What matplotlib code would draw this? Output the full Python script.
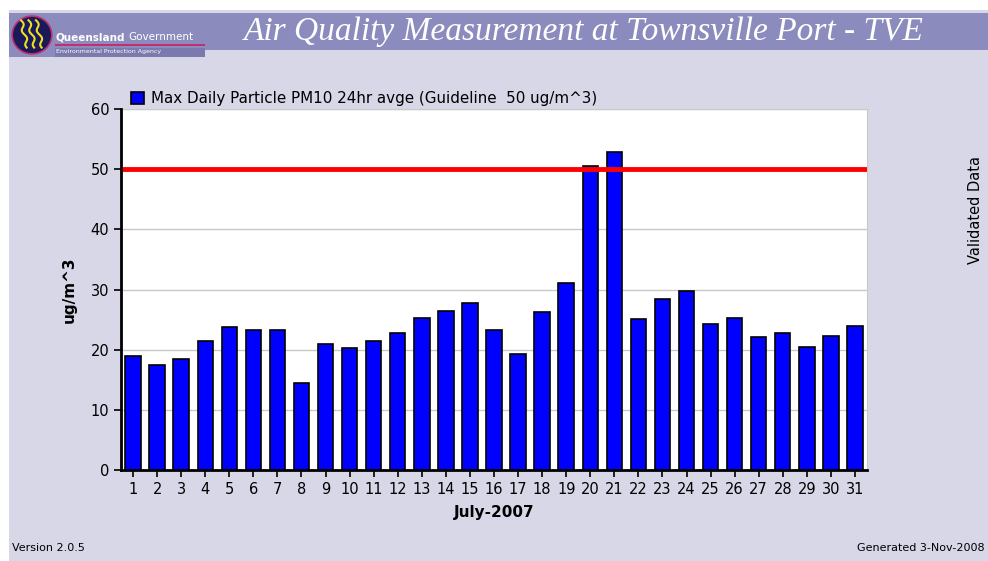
import matplotlib
matplotlib.use("Agg")
from matplotlib import pyplot as plt
from matplotlib.patches import Rectangle, Circle
import numpy as np

# daily max PM10 values
days = list(range(1, 32))
pm10 = [19.0, 17.4, 18.5, 21.5, 23.7, 23.2, 23.2, 14.4, 21.0, 20.2,
        21.5, 22.8, 25.3, 26.5, 27.8, 23.2, 19.3, 26.2, 31.1, 50.6,
        52.8, 25.1, 28.4, 29.8, 24.2, 25.3, 22.1, 22.8, 20.4, 22.3, 24.0]
guideline = 50
y_ticks = [0, 10, 20, 30, 40, 50, 60]

bg = '#d7d7e7'
banner = '#8b8bbd'

fig = plt.figure(figsize=(9.88, 5.61), dpi=100)
fig.patch.set_facecolor('white')

# page background below a white strip
fig.add_artist(Rectangle((9 / 988, 0), 1, 1 - 10 / 561, transform=fig.transFigure,
                         facecolor=bg, edgecolor='none', zorder=0))
# title banner
fig.add_artist(Rectangle((9 / 988, 1 - 50 / 561), 1, 37 / 561, transform=fig.transFigure,
                         facecolor=banner, edgecolor='none', zorder=1))
# logo
fig.add_artist(Rectangle((9 / 988, 1 - 57 / 561), 196 / 988, 44 / 561, transform=fig.transFigure,
                         facecolor=banner, edgecolor='none', zorder=1))
fig.add_artist(Rectangle((55 / 988, 1 - 57 / 561), 150 / 988, 9 / 561, transform=fig.transFigure,
                         facecolor='#7a7aae', edgecolor='none', zorder=2))
logo_ax = fig.add_axes([10 / 988, 1 - 56 / 561, 44 / 988, 42 / 561])
logo_ax.set_zorder(5)
logo_ax.patch.set_alpha(0)
logo_ax.set_xlim(0, 1)
logo_ax.set_ylim(0, 1)
logo_ax.axis('off')
logo_ax.add_patch(Circle((0.5, 0.5), 0.45, facecolor='#1a1a5a', edgecolor='#c03070', lw=1.2))
for dx in [0.25, 0.42, 0.59]:
    t = np.linspace(0, 1, 30)
    logo_ax.plot(dx + 0.15 * t + 0.04 * np.sin(t * 12), 0.85 - 0.65 * t, color='#f0e020', lw=1.5)
fig.text(55 / 988, 1 - 37 / 561, 'Queensland', color='white', fontsize=7.5, fontweight='bold',
         va='center', zorder=3)
fig.text(128 / 988, 1 - 37 / 561, 'Government', color='white', fontsize=7.5,
         va='center', zorder=3)
fig.add_artist(Rectangle((55 / 988, 1 - 46 / 561), 150 / 988, 1.5 / 561, transform=fig.transFigure,
                         facecolor='#c03070', edgecolor='none', zorder=3))
fig.text(56 / 988, 1 - 51.5 / 561, 'Environmental Protection Agency', color='white', fontsize=4.5,
         va='center', zorder=3)

fig.text(584 / 988, 1 - 32 / 561, 'Air Quality Measurement at Townsville Port - TVE',
         family='Liberation Serif', style='italic', fontsize=24, color='white',
         ha='center', va='center', zorder=3)

ax = fig.add_axes([121 / 988, 91 / 561, 746 / 988, 361 / 561])
ax.set_facecolor('white')
ax.bar(days, pm10, width=0.64, color='#0000ff', edgecolor='black', linewidth=1.2, zorder=3,
       label='Max Daily Particle PM10 24hr avge (Guideline  50 ug/m^3)')
ax.axhline(guideline, color='#ff0000', linewidth=3.5, zorder=4)
ax.set_xlim(0.5, 31.5)
ax.set_ylim(0, 60)
ax.set_yticks(y_ticks)
ax.set_xticks(days)
ax.grid(axis='y', color='#c8c8c8', linewidth=1, zorder=0)
for s in ['top', 'right']:
    ax.spines[s].set_color('#c8c8c8')
for s in ['left', 'bottom']:
    ax.spines[s].set_color('black')
    ax.spines[s].set_linewidth(2)
    ax.spines[s].set_zorder(5)
ax.tick_params(axis='both', labelsize=10.5, length=5, width=1.2, color='black')
ax.set_ylabel('ug/m^3', fontsize=11, fontweight='bold', labelpad=10)
ax.set_xlabel('July-2007', fontsize=11, fontweight='bold', labelpad=6)

ax.legend(loc='lower left', bbox_to_anchor=(0.01, 1.0), frameon=False, fontsize=10.9,
          handlelength=0.8, handleheight=0.8, handletextpad=0.5, borderaxespad=0.1,
          borderpad=0.1)

fig.text(975 / 988, 1 - 210 / 561, 'Validated Data', rotation=90, fontsize=10.5,
         ha='center', va='center')
fig.text(12 / 988, 1 - 548 / 561, 'Version 2.0.5', fontsize=8, va='center')
fig.text(985 / 988, 1 - 548 / 561, 'Generated 3-Nov-2008', fontsize=8, va='center', ha='right')

plt.savefig('out.png', dpi=100, facecolor=fig.get_facecolor())
